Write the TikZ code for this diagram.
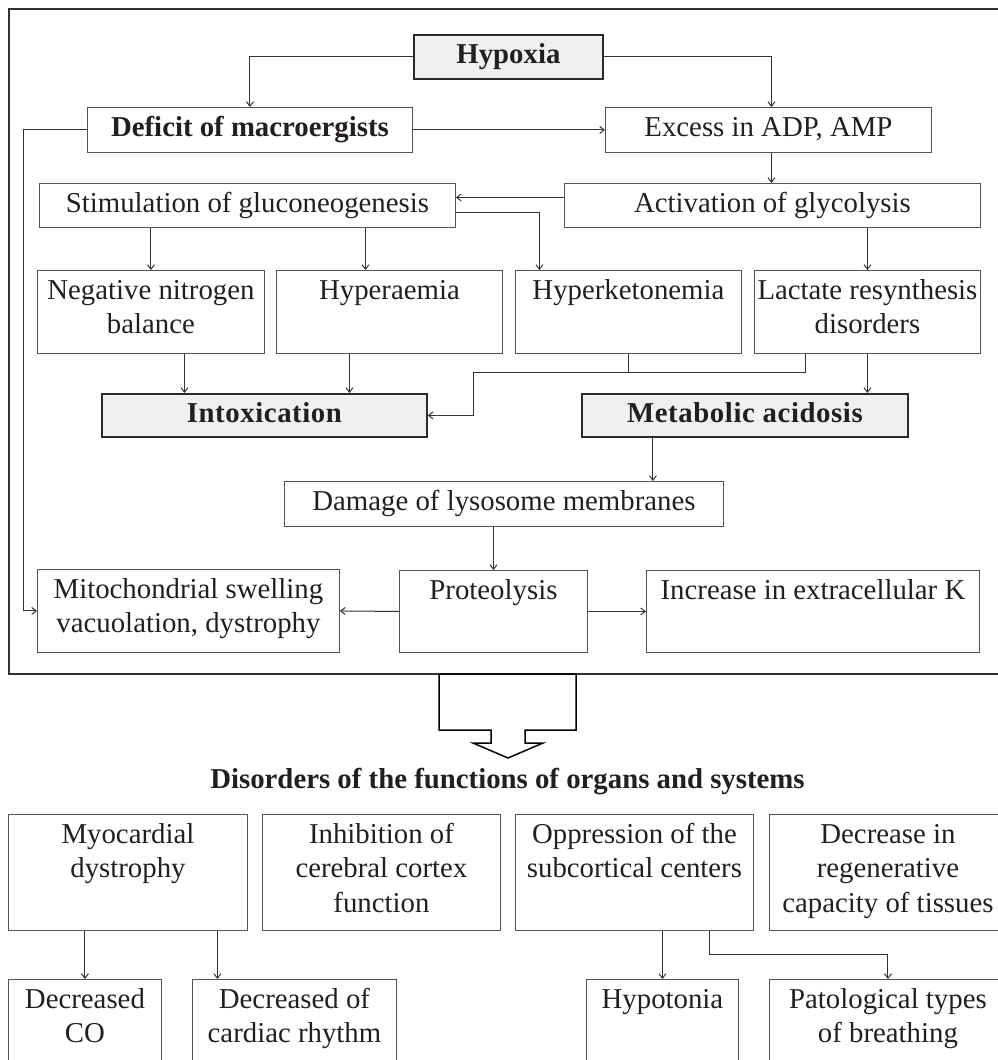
\documentclass[tikz,border=0pt]{standalone}
\usepackage{fontspec}
\setmainfont{Liberation Serif}
\usetikzlibrary{arrows.meta}

\definecolor{txt}{HTML}{231F20}
\definecolor{boxline}{HTML}{555555}
\definecolor{keyfill}{HTML}{EFF0F2}
\definecolor{keyline}{HTML}{2B2B2B}
\definecolor{wire}{HTML}{333333}

% box with its text set from the top: [style]{name}{x1}{y1}{x2}{y2}{text}
\newcommand{\cellbox}[7][cell]{%
  \pgfmathsetmacro{\cw}{#5-#3}%
  \pgfmathsetmacro{\ch}{#6-#4}%
  \node[#1] (#2) at (#3,#4)
    {\parbox[t][\ch pt][t]{\cw pt}{\centering\rule{0pt}{29pt}#7}};%
}

\tikzset{
  cell/.style={draw=boxline, line width=0.9pt, inner sep=0pt, anchor=north west,
    text=txt, font=\fontsize{28.8}{34.5}\selectfont},
  cellb/.style={cell, font=\fontsize{28.8}{34.5}\selectfont\bfseries},
  key/.style={cell, fill=keyfill, draw=keyline, line width=1.8pt,
    font=\fontsize{28.8}{34.5}\selectfont\bfseries},
  wire/.style={draw=wire, line width=1pt},
  arr/.style={wire, -{Straight Barb[length=4.5pt,width=7pt]}},
}

\begin{document}
\begin{tikzpicture}[x=1pt,y=-1pt]
\useasboundingbox (0,0) rectangle (998,1060);
\clip (0,0) rectangle (998,1060);

% outer frame of the cellular mechanisms
\draw[draw=wire, line width=1.4pt] (9,9) rectangle (1012,674);

% cellular level
\cellbox[key]{hyp}{413}{34}{602}{78}{Hypoxia}
\cellbox[cellb]{def}{87}{107}{412}{152}{Deficit of macroergists}
\cellbox{exc}{605}{107}{931}{152}{Excess in ADP, AMP}
\cellbox{stim}{39}{183}{455}{227}{Stimulation of gluconeogenesis}
\cellbox{act}{564}{183}{980}{227}{Activation of glycolysis}
\cellbox{neg}{37}{270}{264}{353}{Negative nitrogen\\balance}
\cellbox{hyr}{276}{270}{502}{353}{Hyperaemia}
\cellbox{hk}{515}{270}{741}{353}{Hyperketonemia}
\cellbox{lac}{754}{270}{980}{353}{Lactate resynthesis\\disorders}
\cellbox[key]{itx}{101}{393}{426}{436}{\addfontfeature{LetterSpace=2}Intoxication}
\cellbox[key]{met}{581}{393}{907}{436}{\addfontfeature{LetterSpace=2}Metabolic acidosis}
\cellbox{dam}{284}{481}{723}{526}{Damage of lysosome membranes}
\cellbox{mit}{37}{569}{339}{652}{Mitochondrial swelling\\vacuolation, dystrophy}
\cellbox{pro}{399}{570}{587}{652}{Proteolysis}
\cellbox{inc}{646}{570}{979}{652}{Increase in extracellular K}

% connectors, cellular level
\draw[arr] (hyp.west) -| (def.north);
\coordinate (excin) at ([xshift=3pt]exc.north);
\draw[arr] (hyp.east) -| (excin);
\draw[arr] (def.east) -- (exc.west);
\draw[arr] (def.west) -- ++(-64,0) |- (mit.west);
\coordinate (excout) at ([xshift=3pt]exc.south);
\draw[arr] (excout) -- (excout |- act.north);
\draw[arr] ([yshift=8pt]act.west) -- ([yshift=8pt]stim.east);
\draw[arr] ([yshift=-7pt]stim.east) -| ([xshift=-89pt]hk.north);
\draw[arr] (stim.south -| neg.north) -- (neg.north);
\coordinate (hyrin) at ([xshift=-24pt]hyr.north);
\draw[arr] (stim.south -| hyrin) -- (hyrin);
\draw[arr] (act.south -| lac.north) -- (lac.north);
\coordinate (negout) at ([xshift=33.5pt]neg.south);
\draw[arr] (negout) -- (negout |- itx.north);
\coordinate (hyrout) at ([xshift=-40pt]hyr.south);
\draw[arr] (hyrout) -- (hyrout |- itx.north);
\coordinate (jn) at (473,372);
\draw[wire] (hk.south) -- (hk.south |- jn);
\coordinate (lacout) at ([xshift=-62pt]lac.south);
\draw[arr] (lacout) |- (jn) |- (itx.east);
\draw[arr] (lac.south) -- (lac.south |- met.north);
\coordinate (metout) at ([xshift=-92pt]met.south);
\draw[arr] (metout) -- (metout |- dam.north);
\draw[arr] (dam.south -| pro.north) -- (pro.north);
\draw[arr] (pro.west) -- (mit.east);
\draw[arr] (pro.east) -- (inc.west);

% hollow block arrow leading to the organ level
\draw[black, line width=1.5pt, line join=miter]
  (439,674) -- (439,730) -- (491,730) -- (491,743) -- (473,743) -- (508,758)
  -- (543,743) -- (525,743) -- (525,730) -- (576,730) -- (576,674) -- cycle;

\node[text=txt, font=\fontsize{28.8}{34.5}\selectfont\bfseries, anchor=base] (ttl)
  at (507.5,788) {Disorders of the functions of organs and systems};

% organ and system level
\cellbox{myo}{8}{814}{247}{930}{Myocardial\\dystrophy}
\cellbox{inh}{262}{814}{500}{930}{Inhibition of\\cerebral cortex\\function}
\cellbox{opp}{515}{814}{753}{930}{Oppression of the\\subcortical centers}
\cellbox{reg}{769}{814}{1006}{930}{Decrease in\\regenerative\\capacity of tissues}
\cellbox{dco}{8}{979}{161}{1075}{Decreased\\CO}
\cellbox{drh}{192}{979}{396}{1075}{Decreased of\\cardiac rhythm}
\cellbox{hto}{586}{979}{738}{1075}{Hypotonia}
\cellbox{pat}{769}{979}{1006}{1075}{Patological types\\of breathing}

% connectors, organ level
\draw[arr] (myo.south -| dco.north) -- (dco.north);
\coordinate (drhin) at ([xshift=-77pt]drh.north);
\draw[arr] (myo.south -| drhin) -- (drhin);
\draw[arr] (opp.south -| hto.north) -- (hto.north);
\coordinate (oppout) at ([xshift=75pt]opp.south);
\draw[arr] (oppout) -- ++(0,24) -| (pat.north);
\end{tikzpicture}
\end{document}
